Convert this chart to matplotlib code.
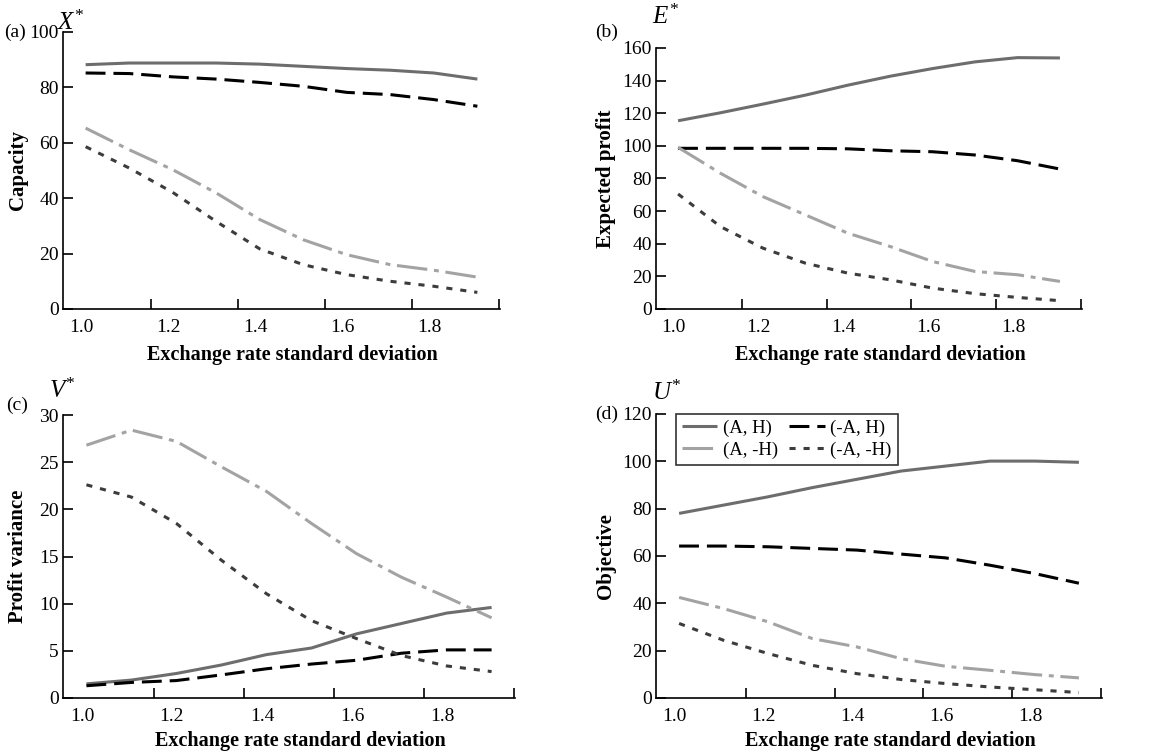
import matplotlib
matplotlib.use("Agg")
import matplotlib.pyplot as plt

plt.rcParams['font.family'] = ['Liberation Serif', 'DejaVu Serif']
plt.rcParams['mathtext.fontset'] = 'custom'
plt.rcParams['mathtext.it'] = 'Liberation Serif:italic'
plt.rcParams['mathtext.rm'] = 'Liberation Serif'

# ---------------- data ----------------
sigma = [1.01, 1.11, 1.21, 1.31, 1.41, 1.51, 1.61, 1.71, 1.81, 1.91]
series_names = ["(A, H)", "(-A, H)", "(A, -H)", "(-A, -H)"]

capacity_AH   = [88.2, 88.8, 88.8, 88.8, 88.4, 87.6, 86.8, 86.2, 85.2, 83.0]
capacity_nAH  = [85.2, 85.0, 83.8, 83.0, 81.8, 80.4, 78.2, 77.4, 75.6, 73.2]
capacity_AnH  = [65.3, 57.5, 50.3, 41.9, 32.3, 25.0, 19.6, 16.0, 14.0, 11.5]
capacity_nAnH = [58.6, 50.9, 42.1, 31.6, 21.7, 16.0, 12.4, 10.0, 8.2, 6.0]

profit_AH   = [115.4, 120.3, 125.6, 131.1, 137.2, 142.7, 147.4, 151.5, 154.1, 153.9]
profit_nAH  = [98.5, 98.5, 98.5, 98.5, 98.2, 97.0, 96.4, 94.4, 90.9, 85.8]
profit_AnH  = [99.1, 83.2, 68.9, 57.7, 46.5, 38.3, 29.1, 23.0, 21.0, 16.9]
profit_nAnH = [70.5, 50.5, 37.3, 28.1, 22.0, 17.9, 12.8, 9.4, 7.1, 5.1]

variance_AH   = [1.5, 1.9, 2.6, 3.5, 4.6, 5.3, 6.8, 7.9, 9.0, 9.6]
variance_nAH  = [1.3, 1.65, 1.85, 2.45, 3.1, 3.6, 4.0, 4.75, 5.1, 5.1]
variance_AnH  = [26.8, 28.4, 27.2, 24.5, 21.9, 18.5, 15.3, 12.8, 10.7, 8.5]
variance_nAnH = [22.6, 21.3, 18.5, 14.6, 11.05, 8.2, 6.3, 4.5, 3.4, 2.8]

objective_AH   = [78.0, 81.5, 85.0, 88.9, 92.4, 95.9, 98.0, 100.1, 100.1, 99.6]
objective_nAH  = [64.2, 64.2, 63.9, 63.2, 62.5, 60.8, 59.2, 56.1, 52.6, 48.5]
objective_AnH  = [42.5, 37.8, 32.2, 25.1, 21.6, 16.6, 13.4, 11.7, 9.9, 8.5]
objective_nAnH = [31.5, 24.4, 18.8, 13.8, 10.3, 7.8, 6.1, 4.65, 3.5, 2.3]

xtick_labels = ["1.0", "1.2", "1.4", "1.6", "1.8"]
xtick_values = [1.0, 1.2, 1.4, 1.6, 1.8]
xtick_marks = [1.16, 1.36, 1.56, 1.76, 1.96]

panels = [
    dict(letter="(a)", star="X", ylabel="Capacity", ymax=100, ystep=20,
         data=[capacity_AH, capacity_nAH, capacity_AnH, capacity_nAnH],
         rect=(63, 309, 437, 277), letter_xy=(4, 32), star_xy=(57, 23),
         ylab_x=28, xlab_top=345),
    dict(letter="(b)", star="E", ylabel="Expected profit", ymax=160, ystep=20,
         data=[profit_AH, profit_nAH, profit_AnH, profit_nAnH],
         rect=(656, 309, 426, 261), letter_xy=(595, 32), star_xy=(652, 17),
         ylab_x=616, xlab_top=345),
    dict(letter="(c)", star="V", ylabel="Profit variance", ymax=30, ystep=5,
         data=[variance_AH, variance_nAH, variance_AnH, variance_nAnH],
         rect=(63, 698, 452, 283), letter_xy=(6, 405), star_xy=(49, 391),
         ylab_x=28, xlab_top=731),
    dict(letter="(d)", star="U", ylabel="Objective", ymax=120, ystep=20,
         data=[objective_AH, objective_nAH, objective_AnH, objective_nAnH],
         rect=(656, 698, 446, 284), letter_xy=(595, 414), star_xy=(652, 393),
         ylab_x=616, xlab_top=731),
]

styles = [
    dict(color="#6d6d6d", lw=2.2, ls="-"),
    dict(color="#000000", lw=2.2, dashes=(6.5, 2.6)),
    dict(color="#a3a3a3", lw=2.2, dashes=(10, 2.2, 1.6, 2.2)),
    dict(color="#3c3c3c", lw=2.2, dashes=(2.0, 2.6)),
]

W, H = 1159, 754
fig = plt.figure(figsize=(W / 100, H / 100), dpi=100)

for p in panels:
    l, b, w, h = p["rect"]
    ax = fig.add_axes([l / W, 1 - b / H, w / W, h / H])
    for vals, st, name in zip(p["data"], styles, series_names):
        ax.plot(sigma, vals, label=name, solid_capstyle='butt',
                dash_capstyle='butt', **st)
    ax.set_xlim(0.958, 1.962)
    ax.set_ylim(0, p["ymax"])
    ax.set_yticks(list(range(0, p["ymax"] + 1, p["ystep"])))
    ax.set_xticks(xtick_values)
    ax.set_xticklabels(xtick_labels)
    ax.set_xticks(xtick_marks, minor=True)
    ax.tick_params(axis='x', which='major', length=0, pad=7, labelsize=14)
    ax.tick_params(axis='x', which='minor', length=7, width=1.2, direction='in')
    ax.tick_params(axis='y', which='major', length=7, width=1.2, direction='in',
                   pad=3, labelsize=14)
    for s in ["top", "right"]:
        ax.spines[s].set_visible(False)
    for s in ["left", "bottom"]:
        ax.spines[s].set_linewidth(1.2)
    ax.set_xlabel("Exchange rate standard deviation", fontsize=14.5,
                  fontweight='bold')
    ax.xaxis.set_label_coords(0.526, -(p["xlab_top"] - b) / h)
    ax.set_ylabel(p["ylabel"], fontsize=15, fontweight='bold')
    ax.yaxis.set_label_coords((p["ylab_x"] - l) / w, 0.5)
    fig.text(p["letter_xy"][0] / W, 1 - p["letter_xy"][1] / H, p["letter"],
             fontsize=14, va='center', ha='left')
    fig.text(p["star_xy"][0] / W, 1 - p["star_xy"][1] / H,
             r"$%s^{*}$" % p["star"], fontsize=18, va='center', ha='left')
    if p["letter"] == "(d)":
        hs = ax.get_lines()
        order = [0, 2, 1, 3]
        leg = ax.legend([hs[i] for i in order], [series_names[i] for i in order],
                        ncol=2, loc='upper left',
                        bbox_to_anchor=(676 / W, 1 - 414 / H),
                        bbox_transform=fig.transFigure, fontsize=13.5,
                        frameon=True, fancybox=False, borderaxespad=0,
                        handlelength=1.9, columnspacing=0.6, handletextpad=0.3,
                        borderpad=0.3, labelspacing=0.25)
        leg.get_frame().set_edgecolor('black')
        leg.get_frame().set_linewidth(1.2)

fig.savefig("out.png", dpi=100)
